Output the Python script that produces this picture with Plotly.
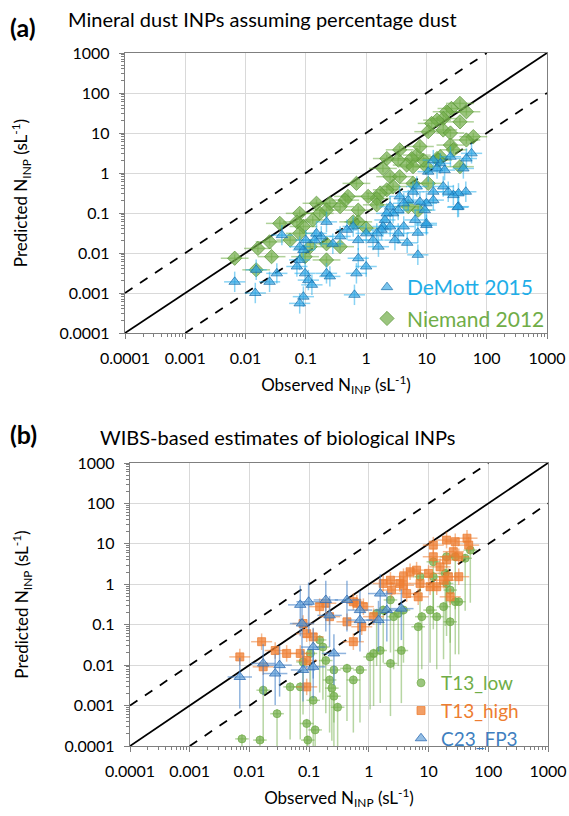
import plotly.graph_objects as go

# ---------------- Panel (a) data: (observed, predicted) ----------------
demott_obs = [56, 46, 41, 45, 34, 28, 23, 19, 34, 17, 15, 20, 25, 13, 10.7, 13, 13, 10, 9.4, 7.8,
              6.9, 6.0, 5.0, 4.2, 3.6, 3.4, 2.8, 2.5, 2.2, 2.05, 1.9, 2.5, 1.8, 1.5, 1.6, 1.3, 1.0, 0.74,
              0.74, 1.0, 0.61, 0.48, 0.37, 0.28, 0.22, 0.18, 0.15, 0.14, 0.10, 0.091, 0.079, 0.079,
              0.071, 0.097, 0.11, 0.126, 0.091, 0.079, 0.040, 0.033, 0.025, 0.0145, 0.015, 0.0066,
              0.22, 0.25, 0.69, 0.64, 7.2, 7.2, 10, 4.8, 33, 10, 6.5, 4.2, 3.4, 3.0]
demott_pred = [3.1, 2.3, 1.3, 0.34, 0.31, 0.28, 0.34, 0.46, 0.144, 1.74, 1.3, 1.18, 2.55, 2.1, 1.08,
               0.34, 0.21, 0.175, 0.118, 0.19, 0.46, 0.34, 0.21, 0.175, 0.26, 0.118, 0.098, 0.144,
               0.098, 0.067, 0.046, 0.046, 0.038, 0.031, 0.0144, 0.021, 0.031, 0.021, 0.0074, 0.0046,
               0.046, 0.038, 0.026, 0.017, 0.06, 0.026, 0.031, 0.021, 0.021, 0.0119, 0.0144, 0.0067,
               0.0046, 0.0031, 0.0021, 0.0016, 0.00081, 0.00055, 0.028, 0.0031, 0.0019, 0.001, 0.0038,
               0.0019, 0.0031, 0.0026, 0.0031, 0.0009, 0.032, 0.009, 0.05, 0.018, 0.14, 0.055, 0.067,
               0.046, 0.031, 0.021]

niemand_obs = [36, 26, 46, 21.6, 36, 19, 15, 12.2, 10.7, 19, 25, 60, 46, 25, 17, 15, 36, 10, 8.9, 6.9,
               5.7, 4.7, 3.6, 3.4, 2.2, 1.9, 2.5, 2.8, 2.2, 1.7, 1.5, 1.08, 0.74, 0.74, 0.50, 0.45, 0.69,
               0.37, 0.25, 0.22, 0.15, 0.17, 0.13, 0.079, 0.071, 0.091, 0.079, 0.055, 0.037, 0.025,
               0.027, 0.016, 0.0066, 0.015, 0.097, 0.118, 0.22, 0.22, 0.37, 0.61, 1.0, 1.5, 3.6, 6.0,
               10.7, 7.3, 5.0, 6.0, 7.8, 28, 15.7]
niemand_pred = [55, 41, 34, 34, 19, 23, 21, 17.4, 10.8, 11.9, 10, 8.1, 6.7, 5.0, 2.55, 2.3, 1.44, 1.44,
                2.1, 2.8, 2.3, 1.58, 3.8, 2.1, 2.3, 1.3, 0.81, 0.46, 0.38, 0.31, 0.23, 0.26, 0.118, 0.06,
                0.26, 0.21, 0.55, 0.144, 0.175, 0.118, 0.175, 0.098, 0.067, 0.098, 0.06, 0.046, 0.031,
                0.021, 0.055, 0.019, 0.0081, 0.013, 0.0074, 0.0038, 0.0081, 0.0144, 0.017, 0.0067,
                0.0144, 0.06, 0.042, 0.16, 0.81, 0.55, 0.55, 0.118, 0.144, 1.44, 4.6, 3.8, 2.1]

# ---------------- Panel (b) data ----------------
t13low_obs = [50, 41, 28, 20, 12, 19, 20, 12, 7.2, 23, 32, 28, 17.8, 10.6, 13.7, 7.7, 6.7, 23, 3.8, 3.1,
              2.6, 2.3, 1.74, 1.35, 3.5, 2.3, 1.55, 1.2, 1.05, 0.71, 0.55, 0.43, 0.26, 0.22, 0.19, 0.17,
              0.15, 0.105, 0.079, 0.071, 0.048, 0.029, 0.017, 0.117, 0.26, 0.015, 0.091, 0.126, 0.095,
              0.30, 0.24, 0.0075]
t13low_pred = [7.0, 4.4, 4.8, 4.8, 3.6, 1.86, 1.05, 1.54, 1.54, 0.72, 0.37, 0.37, 0.28, 0.23, 0.158,
               0.158, 0.089, 0.118, 0.23, 0.19, 0.158, 0.41, 0.23, 0.19, 0.023, 0.011, 0.023, 0.0195,
               0.016, 0.0076, 0.0043, 0.0083, 0.0076, 0.0043, 0.013, 0.028, 0.042, 0.0195, 0.012,
               0.0029, 0.0029, 0.00063, 0.0024, 0.00135, 0.0017, 0.00014, 0.00036, 0.00025, 0.00014,
               0.00091, 0.0027, 0.00015]

t13high_obs = [12, 20, 28, 44, 47, 26, 32, 20, 12, 15.6, 10, 6.3, 4.9, 3.8, 3.3, 2.3, 1.74, 2.4, 3.8,
               7.2, 10.6, 13.7, 17.8, 21.5, 32, 6.7, 23, 4.3, 0.76, 0.81, 0.63, 0.55, 0.43, 0.19, 0.22,
               0.15, 0.079, 0.091, 0.117, 0.071, 0.042, 0.027, 0.016, 0.0069, 0.017, 0.091, 0.091,
               0.55, 1.2]
t13high_pred = [9.3, 12.4, 11.3, 13.8, 9.3, 6.4, 4.8, 4.0, 4.8, 2.7, 1.86, 2.24, 2.04, 1.54, 1.05, 1.26,
                1.05, 0.72, 0.95, 1.05, 0.87, 0.87, 1.26, 1.54, 1.54, 0.49, 0.49, 0.59, 0.089, 0.28,
                0.34, 0.37, 0.118, 0.34, 0.158, 0.28, 0.107, 0.060, 0.050, 0.0195, 0.0195, 0.023,
                0.038, 0.016, 0.0091, 0.0029, 0.013, 0.038, 0.158]

c23_obs = [0.071, 0.098, 0.076, 0.19, 0.22, 0.43, 0.71, 0.71, 1.55, 1.45, 2.0, 3.5, 0.26, 0.117, 0.079,
           0.032, 0.017, 0.027, 0.0069, 0.117]
c23_pred = [0.31, 0.37, 0.107, 0.41, 0.17, 0.41, 0.23, 0.13, 0.59, 0.13, 0.23, 0.25, 0.0195, 0.0091,
            0.0076, 0.010, 0.011, 0.0062, 0.0051, 0.028]

# Error-bar multiplicative factors (lower, upper) per series
ERR = {
    "demott": dict(x=(1.5, 1.5), y=(1.8, 1.8)),
    "niemand": dict(x=(1.7, 1.7), y=(1.25, 1.25)),
    "t13low": dict(x=(1.3, 1.3), y=(20.0, 1.3)),
    "t13high": dict(x=(1.5, 1.5), y=(1.6, 1.6)),
    "c23": dict(x=(1.6, 1.6), y=(6.0, 3.0)),
}

TICK_VALS = [1e-4, 1e-3, 1e-2, 1e-1, 1, 10, 100, 1000]
TICK_TEXT = ["0.0001", "0.001", "0.01", "0.1", "1", "10", "100", "1000"]
MINOR_VALS = [k * 10.0 ** e for e in range(-4, 3) for k in range(2, 10)]

FONT = "Lato, 'Open Sans', sans-serif"
W, H = 569, 816


def err(vals, lo, hi):
    minus = [v - v / lo for v in vals]
    plus = [v * hi - v for v in vals]
    return minus, plus


def series(xs, ys, key, name, symbol, size, fill, edge, ecol, xa, ya, legend, rank):
    e = ERR[key]
    xm, xp = err(xs, *e["x"])
    ym, yp = err(ys, *e["y"])
    return go.Scatter(
        x=xs, y=ys, mode="markers", name=name, xaxis=xa, yaxis=ya, legend=legend, legendrank=rank,
        legendgroup=key,
        marker=dict(symbol=symbol, size=size, color=fill, line=dict(color=edge, width=1)),
        error_x=dict(type="data", array=xp, arrayminus=xm, color=ecol, thickness=1.5, width=0),
        error_y=dict(type="data", array=yp, arrayminus=ym, color=ecol, thickness=1.5, width=0),
    )


fig = go.Figure()

# reference lines (1:1 and factor of 10)
for xa, ya in (("x", "y"), ("x2", "y2")):
    fig.add_trace(go.Scatter(x=[1e-4, 1e3], y=[1e-4, 1e3], mode="lines", xaxis=xa, yaxis=ya,
                             line=dict(color="black", width=1.8), showlegend=False, hoverinfo="skip"))
    fig.add_trace(go.Scatter(x=[1e-4, 1e2], y=[1e-3, 1e3], mode="lines", xaxis=xa, yaxis=ya,
                             line=dict(color="black", width=1.8, dash="dash"), showlegend=False,
                             hoverinfo="skip"))
    fig.add_trace(go.Scatter(x=[1e-3, 1e3], y=[1e-4, 1e2], mode="lines", xaxis=xa, yaxis=ya,
                             line=dict(color="black", width=1.8, dash="dash"), showlegend=False,
                             hoverinfo="skip"))

# panel (a)
fig.add_trace(series(niemand_obs, niemand_pred, "niemand",
                     "<span style='color:#70AD47'>Niemand 2012</span>", "diamond", 11,
                     "rgba(112,173,71,0.7)", "rgba(90,150,55,0.7)", "rgba(112,173,71,0.55)",
                     "x", "y", "legend", 2))
fig.add_trace(series(demott_obs, demott_pred, "demott",
                     "<span style='color:#1FAEE8'>DeMott 2015</span>", "triangle-up", 10,
                     "rgba(40,160,225,0.62)", "rgba(25,110,170,0.7)", "rgba(40,175,235,0.55)",
                     "x", "y", "legend", 1))

# panel (b)
fig.add_trace(series(t13low_obs, t13low_pred, "t13low",
                     "<span style='color:#70AD47'>T13_low</span>", "circle", 8,
                     "rgba(112,173,71,0.7)", "rgba(112,173,71,0.7)", "rgba(112,173,71,0.5)",
                     "x2", "y2", "legend2", 1))
fig.add_trace(series(t13high_obs, t13high_pred, "t13high",
                     "<span style='color:#ED7D31'>T13_high</span>", "square", 8,
                     "rgba(237,125,49,0.75)", "rgba(237,125,49,0.75)", "rgba(237,125,49,0.55)",
                     "x2", "y2", "legend2", 2))
fig.add_trace(series(c23_obs, c23_pred, "c23",
                     "<span style='color:#3F7FC0'>C23_FP3</span>", "triangle-up", 10,
                     "rgba(91,155,213,0.65)", "rgba(50,110,180,0.8)", "rgba(70,130,200,0.6)",
                     "x2", "y2", "legend2", 3))

axis_common = dict(
    type="log", range=[-4, 3], tickmode="array", tickvals=TICK_VALS, ticktext=TICK_TEXT,
    showgrid=True, gridcolor="#D9D9D9", gridwidth=1, showline=True, linecolor="#7F7F7F",
    linewidth=1.3, mirror=True, ticks="outside", ticklen=5, tickcolor="#7F7F7F",
    tickfont=dict(family=FONT, size=16, color="black"), zeroline=False, ticklabelstandoff=6,
    automargin=False,
    minor=dict(tickmode="array", tickvals=MINOR_VALS, ticks="outside", ticklen=3,
               tickcolor="#7F7F7F", showgrid=False),
)

xt = "Observed N<sub>INP</sub> (sL<sup>-1</sup>)"
yt = "Predicted N<sub>INP</sub> (sL<sup>-1</sup>)"
tfont = dict(family=FONT, size=17, color="black")

fig.update_layout(
    width=W, height=H, autosize=False, margin=dict(l=0, r=0, t=0, b=0, autoexpand=False),
    paper_bgcolor="white", plot_bgcolor="white", font=dict(family=FONT),
    xaxis=dict(axis_common, domain=[125 / W, 547 / W], anchor="y",
               title=dict(text=xt, font=tfont, standoff=12)),
    yaxis=dict(axis_common, domain=[1 - 333 / H, 1 - 53 / H], anchor="x",
               title=dict(text=yt, font=tfont, standoff=27)),
    xaxis2=dict(axis_common, domain=[130 / W, 548 / W], anchor="y2",
                title=dict(text=xt, font=tfont, standoff=12)),
    yaxis2=dict(axis_common, domain=[1 - 746 / H, 1 - 463 / H], anchor="x2",
                title=dict(text=yt, font=tfont, standoff=31)),
    legend=dict(x=367 / W, y=1 - 267 / H, xanchor="left", yanchor="top", bgcolor="rgba(0,0,0,0)",
                font=dict(family=FONT, size=21), tracegroupgap=1),
    legend2=dict(x=401 / W, y=1 - 664 / H, xanchor="left", yanchor="top", bgcolor="rgba(0,0,0,0)",
                 font=dict(family=FONT, size=19), tracegroupgap=0),
    showlegend=True,
)

ann = [
    dict(text="<b>(a)</b>", x=8 / W, y=1 - 27 / H, font=dict(size=25, family=FONT, color="black")),
    dict(text="Mineral dust INPs assuming percentage dust", x=66 / W, y=1 - 19 / H,
         font=dict(size=20, family=FONT, color="black")),
    dict(text="<b>(b)</b>", x=8 / W, y=1 - 434 / H, font=dict(size=25, family=FONT, color="black")),
    dict(text="WIBS-based estimates of biological INPs", x=98 / W, y=1 - 437 / H,
         font=dict(size=20, family=FONT, color="black")),
]
for a in ann:
    fig.add_annotation(xref="paper", yref="paper", xanchor="left", yanchor="middle",
                       showarrow=False, **a)

fig.write_html("out.html")
